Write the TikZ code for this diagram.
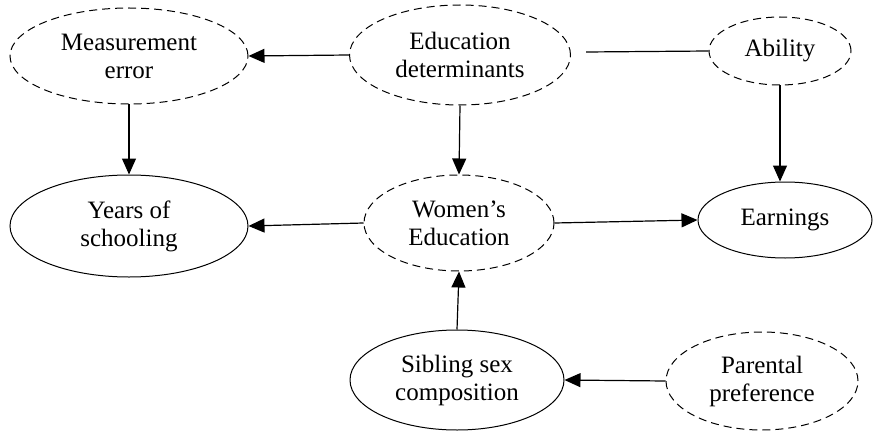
\documentclass[tikz,border=0pt]{standalone}
\usepackage{fontspec}
\setmainfont{Liberation Serif}
\usetikzlibrary{shapes.geometric,arrows.meta}
\tikzset{
  var/.style={ellipse,draw,line width=1pt,inner sep=0pt,align=center,
    font=\fontsize{25}{28}\selectfont},
  latent/.style={var,dash pattern=on 8pt off 5pt},
  arr/.style={line width=1.2pt,-{Triangle[length=16pt,width=14pt]}},
  plain/.style={line width=1.2pt}
}
\begin{document}
\begin{tikzpicture}[x=1pt,y=-1pt]
\useasboundingbox (0,0) rectangle (874,433);
\node[latent,minimum width=238pt,minimum height=96pt] (ME) at (129,56) {Measurement\\error};
\node[latent,minimum width=221pt,minimum height=100pt] (Ed) at (460,55) {Education\\determinants};
\node[latent,minimum width=142pt,minimum height=68pt] (Ab) at (780,51) {Ability};
\node[var,minimum width=238pt,minimum height=102pt] (YoS) at (129,226) {Years of\\schooling};
\node[latent,minimum width=190pt,minimum height=96pt] (WE) at (459,223) {Women’s\\Education};
\node[var,minimum width=174pt,minimum height=76pt] (Earn) at (785,220) {Earnings};
\node[var,minimum width=214pt,minimum height=100pt] (Sib) at (457,380) {Sibling sex\\composition};
\node[latent,minimum width=192pt,minimum height=98pt] (PP) at (762,381) {Parental\\preference};
\coordinate (gap) at (586,52);
\draw[arr] (Ed.west) -- (ME.east);
\draw[arr] (ME.south) -- (YoS.north);
\draw[arr] (Ed.south) -- (WE.north);
\draw[arr] (WE.west) -- (YoS.east);
\draw[arr] (WE.east) -- (Earn.west);
\draw[plain] (gap) -- (Ab.west);
\draw[arr] (Ab.south) -- (Ab.south |- Earn.north);
\draw[arr] (Sib.north) -- (WE.south);
\draw[arr] (PP.west) -- (Sib.east);
\end{tikzpicture}
\end{document}
